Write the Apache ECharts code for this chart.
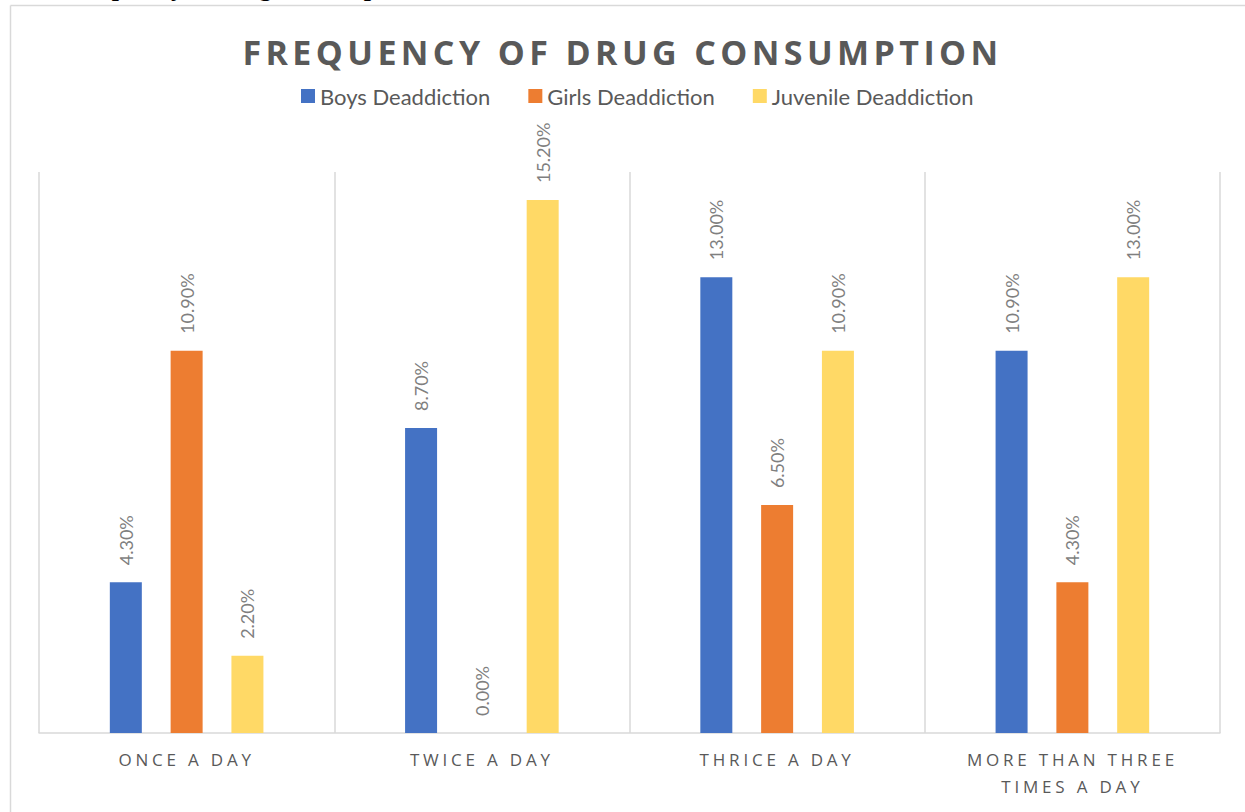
<!DOCTYPE html>
<html>
<head>
<meta charset="utf-8">
<script src="https://cdn.jsdelivr.net/npm/echarts@6/dist/echarts.min.js"></script>
<style>
  html, body { margin: 0; padding: 0; background: #fff; }
  #chart { width: 1245px; height: 812px; }
</style>
</head>
<body>
<div id="chart"></div>
<script>
// Frequency of drug consumption by deaddiction group (percent)
const categories = ['ONCE A DAY', 'TWICE A DAY', 'THRICE A DAY', 'MORE THAN THREE TIMES A DAY'];
const seriesNames = ['Boys Deaddiction', 'Girls Deaddiction', 'Juvenile Deaddiction'];
const boys = [4.3, 8.7, 13.0, 10.9];
const girls = [10.9, 0.0, 6.5, 4.3];
const juvenile = [2.2, 15.2, 10.9, 13.0];
const titleText = 'FREQUENCY OF DRUG CONSUMPTION';
const captionText = 'Frequency of drug consumption';

const colors = ['#4472C4', '#ED7D31', '#FFD966'];
const gridColor = '#D9D9D9';
const textGray = '#595959';

const chart = echarts.init(document.getElementById('chart'), null, { renderer: 'svg' });

// wrap long category names onto two lines at a word boundary
function wrapLabel(s) {
  if (s.length <= 18) return s;
  const words = s.split(' ');
  let line = '', lines = [];
  words.forEach(w => {
    if ((line + ' ' + w).trim().length > 16) { lines.push(line.trim()); line = w; }
    else line += ' ' + w;
  });
  lines.push(line.trim());
  return lines.join('\n');
}

function barSeries(name, data, color) {
  return {
    name: name,
    type: 'bar',
    data: data,
    barWidth: 32,
    barGap: '90%',
    itemStyle: { color: color },
    label: {
      show: true,
      position: 'top',
      rotate: 90,
      align: 'left',
      verticalAlign: 'middle',
      distance: 17,
      fontFamily: 'Lato',
      fontSize: 18,
      color: '#7F7F7F',
      formatter: p => p.value.toFixed(2) + '%'
    }
  };
}

chart.setOption({
  animation: false,
  backgroundColor: '#fff',
  title: {
    text: titleText,
    left: 'center',
    top: 35,
    padding: 0,
    textStyle: { fontFamily: 'Open Sans', fontWeight: 'bold', fontSize: 34, color: textGray }
  },
  legend: {
    data: seriesNames,
    top: 80,
    left: 296,
    itemWidth: 14,
    itemHeight: 14,
    itemGap: 38,
    icon: 'rect',
    textStyle: { fontFamily: 'Lato', fontSize: 22, color: textGray }
  },
  grid: { left: 39, right: 25, top: 172, bottom: 79, containLabel: false },
  xAxis: {
    type: 'category',
    data: categories,
    axisLine: { show: true, lineStyle: { color: gridColor, width: 1.5 } },
    axisTick: { show: false },
    splitLine: { show: true, lineStyle: { color: gridColor, width: 1.5 } },
    axisLabel: {
      interval: 0,
      margin: 13,
      fontFamily: 'Open Sans',
      fontSize: 17,
      lineHeight: 27,
      color: textGray,
      formatter: wrapLabel
    }
  },
  yAxis: {
    type: 'value',
    min: 0,
    max: 16,
    show: false,
    splitLine: { show: false }
  },
  graphic: [
    // caption running off the top edge
    {
      type: 'text', z: 1, x: 66, y: -13,
      style: { text: captionText, font: 'bold 26px "Liberation Serif"', fill: '#000', verticalAlign: 'middle', align: 'left' }
    },
    // outer chart frame (top and left edges)
    { type: 'line', z: 2, shape: { x1: 10.5, y1: 5.5, x2: 1245, y2: 5.5 }, style: { stroke: gridColor, lineWidth: 1.5 } },
    { type: 'line', z: 2, shape: { x1: 10.5, y1: 5.5, x2: 10.5, y2: 812 }, style: { stroke: gridColor, lineWidth: 1.5 } }
  ],
  series: [
    barSeries(seriesNames[0], boys, colors[0]),
    barSeries(seriesNames[1], girls, colors[1]),
    barSeries(seriesNames[2], juvenile, colors[2])
  ]
});

// letter spacing for the title and category labels
function applySpacing() {
  const spaced = {};
  spaced[titleText] = 4.4;
  categories.forEach(c => wrapLabel(c).split('\n').forEach(l => { spaced[l] = 3.8; }));
  document.querySelectorAll('#chart svg text').forEach(t => {
    const s = spaced[t.textContent.trim()];
    if (s) {
      t.setAttribute('letter-spacing', s);
      t.style.letterSpacing = s + 'px';
    }
  });
}
applySpacing();
chart.on('finished', applySpacing);
</script>
</body>
</html>
